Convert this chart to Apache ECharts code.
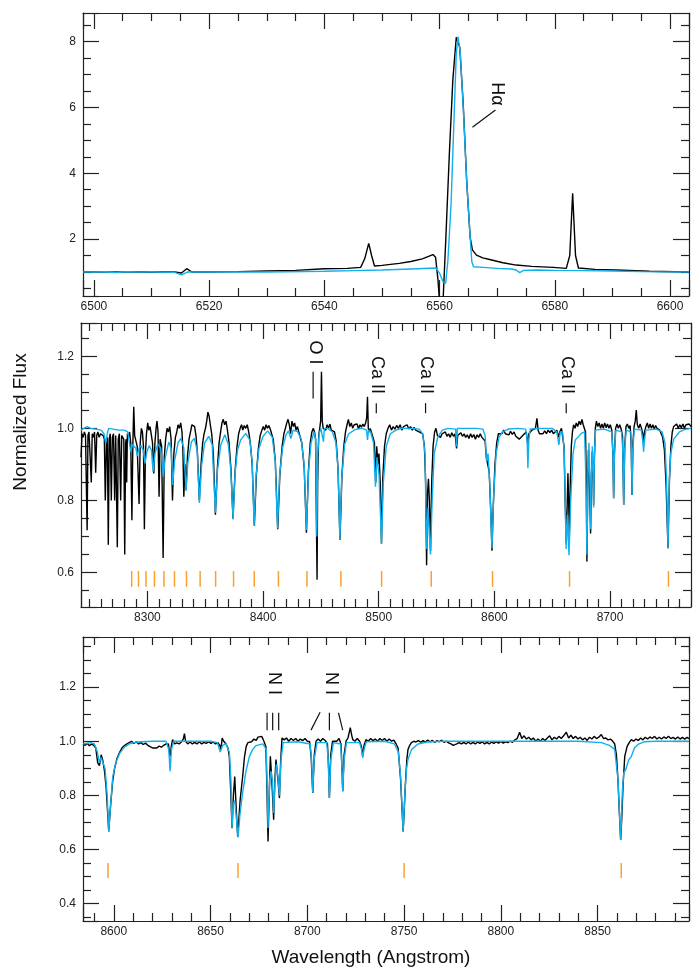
<!DOCTYPE html>
<html><head><meta charset="utf-8">
<script src="https://cdn.jsdelivr.net/npm/echarts@6/dist/echarts.min.js"></script>
<style>html,body{margin:0;padding:0;background:#fff}#c{width:699px;height:969px}</style>
</head><body><div id="c"></div><script>
// ---------- DATA ----------
const topBlack = [[6498.1,1.0],[6500,1.0],[6502,0.995],[6504,1.0],[6506,0.995],[6508,1.0],[6510,0.99],[6512,1.0],[6514,1.0],[6515.2,0.97],[6516.1,1.1],[6517,1.0],[6520,1.0],[6525,1.01],[6530,1.03],[6535,1.05],[6540,1.1],[6544,1.11],[6546.3,1.14],[6547,1.4],[6547.7,1.87],[6548.2,1.5],[6548.7,1.18],[6550,1.2],[6553,1.26],[6555,1.32],[6557,1.4],[6558.85,1.53],[6559.3,1.45],[6559.7,0.8],[6560.0,0.1],[6560.6,0.1],[6561.1,2.07],[6561.7,4.6],[6562.3,6.83],[6562.9,8.13],[6563.1,8.15],[6563.5,7.84],[6564.1,6.12],[6564.7,3.79],[6565.3,2.07],[6565.7,1.67],[6566.4,1.51],[6567.5,1.43],[6568.7,1.38],[6571,1.28],[6573.3,1.21],[6576,1.17],[6579.7,1.14],[6582,1.11],[6582.6,1.5],[6583.1,3.39],[6583.6,1.5],[6584.1,1.12],[6587,1.08],[6590.6,1.06],[6596.4,1.02],[6603.3,1.0]];
const topBlue = [[6498.1,1.0],[6502,1.0],[6503.9,0.985],[6505,1.0],[6510,0.995],[6514,0.99],[6515.2,0.91],[6516.3,1.0],[6520,1.0],[6530,1.0],[6540,1.02],[6545,1.04],[6550,1.06],[6555,1.09],[6559.4,1.12],[6560.0,0.96],[6560.6,0.7],[6561.05,0.65],[6561.45,1.36],[6562.0,3.08],[6562.5,5.62],[6562.9,7.64],[6563.2,8.15],[6563.6,7.64],[6564.1,6.02],[6564.7,3.79],[6565.3,2.07],[6565.6,1.31],[6565.9,1.16],[6567.6,1.14],[6570,1.11],[6572.5,1.09],[6573.3,1.06],[6573.9,0.98],[6574.6,1.05],[6577,1.06],[6580,1.05],[6585,1.04],[6590,1.03],[6595,1.01],[6603.3,1.0]];

const midBlack = [[8242.6,0.92],[8243.5,0.985],[8244.5,0.975],[8245.5,0.99],[8246.5,0.98],[8247.3,0.985],[8247.9,0.717],[8248.6,0.98],[8249.5,0.99],[8250.5,0.985],[8251.5,0.85],[8252.3,0.985],[8253.3,0.975],[8254.3,0.99],[8255.3,0.877],[8256.2,0.98],[8257.2,0.99],[8258.3,0.975],[8259.5,0.985],[8260.7,0.99],[8261.8,0.98],[8262.8,0.97],[8263.6,0.80],[8264.6,0.96],[8265.4,0.975],[8266.2,0.677],[8267.0,0.97],[8267.9,0.985],[8268.8,0.80],[8269.7,0.975],[8270.7,0.985],[8271.7,0.80],[8272.6,0.98],[8273.3,0.975],[8274.0,0.67],[8274.8,0.97],[8275.8,0.985],[8276.9,0.80],[8277.8,0.98],[8278.8,0.975],[8279.6,0.97],[8280.4,0.65],[8281.2,0.96],[8281.7,0.97],[8282.1,0.85],[8282.7,0.985],[8283.6,0.975],[8284.6,0.99],[8285.6,0.96],[8286.6,0.745],[8287.4,0.95],[8288.2,1.06],[8289.0,0.98],[8290.0,0.985],[8291.2,0.95],[8292.8,0.79],[8293.8,0.96],[8294.8,1.0],[8295.7,0.99],[8296.6,0.95],[8297.4,0.72],[8298.3,0.93],[8299.2,0.985],[8300.3,1.015],[8301.2,0.995],[8302.3,1.005],[8303.5,0.98],[8304.4,0.96],[8305.5,0.875],[8306.5,0.96],[8307.5,1.0],[8308.3,1.02],[8309.2,0.99],[8310.1,0.81],[8311.0,0.97],[8312.3,0.95],[8313.6,0.64],[8314.6,0.92],[8315.8,0.97],[8317.0,1.0],[8318.2,0.99],[8319.3,1.005],[8320.5,0.97],[8321.7,0.80],[8322.9,0.93],[8324.2,0.975],[8325.4,0.99],[8326.5,1.01],[8327.6,1.0],[8328.8,1.015],[8329.9,0.99],[8330.7,0.94],[8331.5,0.81],[8332.5,0.90],[8333.5,0.83],[8334.6,0.92],[8336.0,0.97],[8337.3,0.99],[8338.5,1.01],[8339.7,1.015],[8340.8,1.005],[8342.0,0.98],[8343.3,0.93],[8344.9,0.80],[8346.4,0.9],[8347.8,0.96],[8349.0,0.985],[8350.2,1.0],[8351.3,1.02],[8352.3,1.045],[8353.3,1.035],[8354.4,1.01],[8355.6,0.985],[8357.0,0.93],[8358.8,0.76],[8360.5,0.89],[8362.0,0.96],[8363.3,0.99],[8364.5,1.015],[8365.6,1.025],[8366.8,1.01],[8368.0,1.02],[8369.2,0.995],[8370.6,0.96],[8372.2,0.89],[8374.0,0.75],[8375.8,0.88],[8377.5,0.95],[8378.9,0.985],[8380.2,1.0],[8381.4,1.01],[8382.5,0.995],[8383.7,1.008],[8385.0,1.0],[8386.3,1.01],[8387.6,0.99],[8389.0,0.96],[8390.6,0.90],[8392.5,0.73],[8394.2,0.87],[8396.0,0.945],[8397.5,0.98],[8399.0,0.995],[8400.2,1.005],[8401.4,0.995],[8402.6,1.01],[8403.8,1.0],[8405.0,1.008],[8406.2,0.998],[8407.4,0.985],[8408.8,0.97],[8410.6,0.91],[8412.7,0.72],[8414.5,0.87],[8416.5,0.95],[8418.0,0.985],[8419.3,1.0],[8420.5,1.015],[8421.6,1.025],[8422.7,1.01],[8423.8,0.985],[8425.0,1.02],[8426.2,1.005],[8427.3,1.015],[8428.5,0.995],[8429.7,1.005],[8430.9,0.99],[8432.2,0.985],[8433.5,0.96],[8435.6,0.89],[8437.5,0.71],[8439.2,0.88],[8440.8,0.96],[8442.2,0.99],[8443.5,1.0],[8444.5,0.99],[8445.4,0.97],[8446.2,0.72],[8446.7,0.58],[8447.2,0.85],[8448.1,0.98],[8449.0,1.0],[8449.8,1.02],[8450.5,1.157],[8451.2,1.02],[8452.0,1.0],[8453.0,1.005],[8454.2,0.995],[8455.4,1.01],[8456.6,1.0],[8457.8,1.012],[8459.0,0.995],[8460.3,1.0],[8461.8,0.99],[8463.2,0.965],[8464.8,0.89],[8466.5,0.69],[8468.2,0.87],[8469.8,0.95],[8471.3,0.99],[8472.6,1.01],[8473.8,1.025],[8475.0,1.005],[8476.3,1.015],[8477.5,1.0],[8478.8,1.01],[8480.0,1.005],[8481.3,1.012],[8482.5,0.998],[8483.8,1.01],[8485.0,1.003],[8486.3,1.012],[8487.5,1.005],[8488.7,1.015],[8489.6,1.03],[8490.3,1.088],[8491.0,1.0],[8491.8,0.99],[8492.6,1.0],[8493.6,0.99],[8494.6,0.985],[8495.5,0.97],[8496.3,0.96],[8497.4,0.85],[8498.3,0.95],[8499.3,0.90],[8500.2,0.93],[8501.3,0.85],[8502.4,0.68],[8503.5,0.86],[8505.0,0.95],[8506.5,0.985],[8508.0,1.0],[8509.5,1.01],[8511.0,0.995],[8512.5,1.005],[8514.0,0.998],[8515.5,1.008],[8517.0,1.0],[8518.5,1.01],[8520.0,0.995],[8521.5,1.005],[8523.0,1.0],[8524.5,1.01],[8526.0,0.998],[8527.5,1.005],[8529.0,0.995],[8530.5,1.003],[8532.0,0.995],[8533.5,1.0],[8535.0,0.99],[8536.5,0.995],[8538.0,0.985],[8539.5,0.95],[8540.6,0.85],[8541.4,0.62],[8542.2,0.82],[8543.0,0.86],[8543.8,0.80],[8544.8,0.66],[8545.8,0.85],[8547.0,0.95],[8548.3,0.99],[8549.5,1.0],[8550.8,0.98],[8552.0,0.985],[8553.4,0.975],[8554.8,0.985],[8556.2,0.98],[8557.6,0.99],[8559.0,0.978],[8560.4,0.985],[8561.8,0.975],[8563.2,0.988],[8564.6,0.978],[8566.0,0.985],[8567.3,0.944],[8568.3,0.98],[8569.6,0.975],[8571.0,0.988],[8572.4,0.978],[8573.8,0.985],[8575.2,0.975],[8576.6,0.982],[8578.0,0.972],[8579.4,0.985],[8580.8,0.975],[8582.2,0.983],[8583.6,0.97],[8585.0,0.982],[8586.4,0.975],[8587.8,0.985],[8589.2,0.975],[8590.6,0.98],[8592.0,0.965],[8593.0,0.92],[8594.0,0.925],[8595.5,0.88],[8597.0,0.76],[8597.9,0.66],[8599.0,0.78],[8600.5,0.90],[8602.0,0.96],[8603.5,0.985],[8605.0,0.99],[8606.5,0.985],[8608.0,0.995],[8609.5,0.985],[8611.0,0.99],[8612.5,0.982],[8614.0,0.992],[8615.5,0.983],[8617.0,0.99],[8618.5,0.978],[8620.0,0.975],[8621.5,0.97],[8623.0,0.972],[8624.5,0.98],[8626.0,0.985],[8627.5,0.99],[8628.3,0.985],[8629.0,0.954],[8629.8,0.985],[8631.0,0.99],[8632.5,0.995],[8634.0,0.99],[8635.5,1.0],[8636.8,1.028],[8637.8,0.995],[8639.0,0.985],[8640.5,0.99],[8642.0,0.985],[8643.5,0.993],[8645.0,0.985],[8646.5,0.995],[8648.0,0.988],[8649.5,0.995],[8651.0,0.985],[8652.5,0.99],[8654.0,0.995],[8655.5,0.975],[8656.5,0.99],[8658.0,1.0],[8659.2,0.995],[8660.2,0.95],[8661.2,0.80],[8662.2,0.68],[8662.9,0.78],[8663.6,0.875],[8664.2,0.80],[8664.8,0.70],[8665.6,0.84],[8666.5,0.95],[8667.5,0.99],[8668.5,1.01],[8669.7,1.0],[8670.8,1.015],[8672.0,1.005],[8673.3,1.02],[8674.5,1.01],[8675.7,1.025],[8676.8,1.01],[8677.8,1.015],[8678.8,0.99],[8679.5,0.85],[8680.0,0.63],[8680.6,0.80],[8681.3,0.94],[8682.0,0.90],[8682.6,0.80],[8683.2,0.708],[8683.8,0.85],[8684.6,0.935],[8685.2,0.88],[8685.8,0.787],[8686.5,0.92],[8687.3,1.0],[8688.2,1.02],[8689.4,1.005],[8690.6,1.015],[8691.8,1.0],[8693.0,1.012],[8694.2,1.0],[8695.4,1.015],[8696.6,1.002],[8697.8,1.012],[8699.0,1.0],[8700.2,1.01],[8701.5,0.995],[8702.5,0.93],[8703.1,0.806],[8703.8,0.93],[8704.8,1.0],[8706.0,1.012],[8707.2,1.0],[8708.4,1.01],[8709.6,0.998],[8710.8,0.98],[8711.8,0.787],[8712.7,0.95],[8713.8,1.005],[8715.0,1.012],[8716.2,1.0],[8717.4,1.008],[8718.3,0.95],[8719.0,0.815],[8719.8,0.96],[8720.8,1.005],[8721.8,1.02],[8722.7,1.051],[8723.6,1.01],[8724.8,1.0],[8726.0,1.012],[8727.2,1.0],[8728.3,0.985],[8729.0,0.96],[8729.8,0.99],[8731.0,1.005],[8732.2,1.015],[8733.4,1.0],[8734.6,1.012],[8735.8,1.0],[8737.0,1.01],[8738.2,0.998],[8739.4,1.008],[8740.6,1.0],[8741.8,1.005],[8743.0,0.995],[8744.2,0.99],[8745.5,0.975],[8747.0,0.94],[8748.5,0.84],[8750.1,0.667],[8751.4,0.86],[8752.6,0.95],[8753.8,0.99],[8755.0,1.005],[8756.3,1.0],[8757.6,1.012],[8759.0,1.0],[8760.3,1.01],[8761.6,1.002],[8763.0,1.012],[8764.3,1.0],[8765.6,1.01],[8767.0,1.005],[8768.5,1.012],[8770.0,1.005]];
const midBlue = [[8242.6,0.995],[8245,1.0],[8248,1.005],[8249.5,1.008],[8251,1.0],[8255,0.998],[8260,0.995],[8262.5,0.985],[8264,0.958],[8265.3,0.985],[8266.5,1.0],[8270,0.998],[8275,0.995],[8280,0.995],[8283,0.99],[8284.0,0.97],[8285.6,0.935],[8287.0,0.955],[8288.5,0.95],[8290.0,0.945],[8291.3,0.923],[8292.8,0.945],[8294.5,0.952],[8296.3,0.94],[8298.0,0.903],[8299.5,0.935],[8301.5,0.952],[8303.5,0.94],[8304.9,0.88],[8306.5,0.93],[8309.0,0.957],[8311.5,0.945],[8313.8,0.866],[8315.5,0.92],[8318.5,0.962],[8320.5,0.945],[8321.9,0.843],[8323.5,0.91],[8326.5,0.96],[8329.0,0.972],[8331.5,0.945],[8333.4,0.826],[8335.0,0.905],[8338.0,0.962],[8340.5,0.972],[8343.0,0.94],[8345.0,0.793],[8346.8,0.895],[8349.5,0.96],[8353.0,0.978],[8356.0,0.955],[8358.8,0.766],[8360.6,0.885],[8363.5,0.955],[8367.0,0.982],[8370.0,0.955],[8372.1,0.884],[8374.1,0.747],[8375.8,0.875],[8377.9,0.94],[8380.7,0.968],[8385.0,0.986],[8388.5,0.968],[8390.5,0.91],[8392.3,0.731],[8394.0,0.87],[8396.5,0.945],[8400.0,0.978],[8404.0,0.993],[8408.0,0.975],[8410.5,0.91],[8412.5,0.722],[8414.3,0.87],[8417.0,0.948],[8420.0,0.983],[8422,0.993],[8424,0.972],[8426,0.995],[8430,0.99],[8433,0.97],[8435.5,0.90],[8437.5,0.718],[8439.3,0.88],[8441.5,0.96],[8444,0.99],[8445.5,0.97],[8446.5,0.70],[8447.3,0.93],[8448.5,0.985],[8450,1.0],[8451.5,1.0],[8452.2,0.963],[8453,1.0],[8456,1.0],[8460,0.99],[8463,0.96],[8465,0.88],[8466.4,0.69],[8468,0.86],[8470.5,0.955],[8474,0.985],[8480,0.997],[8486,1.0],[8489.5,0.995],[8490.3,0.968],[8491.2,0.995],[8493,0.99],[8495.5,0.96],[8497.2,0.838],[8498.5,0.92],[8500.3,0.87],[8502.4,0.68],[8504,0.85],[8506.5,0.95],[8510,0.985],[8515,0.995],[8520,1.0],[8530,1.0],[8535,0.998],[8538,0.985],[8540,0.93],[8541.4,0.665],[8542.6,0.78],[8543.5,0.72],[8544.8,0.65],[8546.2,0.80],[8548,0.93],[8551,0.975],[8555,0.995],[8560,1.0],[8566.5,0.998],[8567.3,0.95],[8568,1.0],[8575,1.0],[8585,1.0],[8590,0.998],[8592,0.98],[8593.2,0.91],[8594.5,0.93],[8596,0.85],[8597.9,0.667],[8599.5,0.82],[8601.5,0.93],[8604,0.975],[8607,0.99],[8612,0.998],[8620,1.0],[8627,0.998],[8628.3,0.97],[8629,0.889],[8629.8,0.97],[8631,0.998],[8640,1.0],[8650,1.0],[8654,0.99],[8655.8,0.954],[8657,0.99],[8659,0.99],[8660.5,0.93],[8662,0.665],[8663.2,0.76],[8664.5,0.648],[8666,0.80],[8668,0.93],[8670,0.968],[8675.2,0.986],[8678,0.99],[8679.2,0.85],[8680,0.65],[8680.8,0.85],[8681.8,0.96],[8682.6,0.85],[8683.2,0.72],[8683.8,0.86],[8684.7,0.95],[8685.3,0.88],[8685.8,0.78],[8686.5,0.93],[8687.5,0.995],[8695,0.998],[8701.5,0.99],[8702.5,0.93],[8703.1,0.806],[8703.8,0.93],[8705,0.995],[8710,0.99],[8711,0.94],[8711.8,0.787],[8712.6,0.94],[8714,0.995],[8718,0.99],[8718.5,0.94],[8719,0.815],[8719.7,0.94],[8721,0.998],[8727,0.995],[8728.3,0.965],[8729,0.935],[8729.7,0.965],[8731,0.995],[8740,0.998],[8745,0.99],[8747.5,0.96],[8748.8,0.86],[8750.1,0.667],[8751.2,0.85],[8752.5,0.93],[8755,0.97],[8760,0.99],[8765,0.997],[8770,1.0]];

const botBlack = [[8584.1,0.99],[8585.2,0.985],[8586.3,0.992],[8587.4,0.983],[8588.5,0.99],[8589.6,0.985],[8590.7,0.975],[8591.7,0.92],[8592.6,0.91],[8593.5,0.95],[8594.3,0.93],[8595.2,0.89],[8596.0,0.833],[8596.8,0.74],[8597.4,0.667],[8598.0,0.73],[8598.6,0.784],[8599.4,0.85],[8600.3,0.895],[8601.6,0.935],[8602.9,0.957],[8604.2,0.975],[8605.5,0.984],[8606.8,0.99],[8608.0,0.995],[8609.2,1.0],[8610.4,0.992],[8611.6,0.998],[8612.8,0.99],[8614.0,0.995],[8615.2,0.988],[8616.4,0.993],[8617.6,0.985],[8618.8,0.98],[8620.0,0.975],[8621.0,0.97],[8622.2,0.975],[8623.4,0.982],[8624.6,0.978],[8625.8,0.985],[8627.0,0.99],[8628.2,0.99],[8629.1,0.944],[8629.8,0.985],[8630.4,1.006],[8631.4,0.99],[8632.6,0.994],[8633.8,0.99],[8635.0,0.998],[8636.0,1.01],[8636.5,1.028],[8637.1,1.0],[8638.2,0.99],[8639.4,0.997],[8640.6,0.99],[8641.8,0.996],[8643.0,0.99],[8644.2,0.998],[8645.4,0.99],[8646.6,0.996],[8647.8,0.992],[8649.0,0.998],[8650.2,0.992],[8651.4,0.997],[8652.6,0.99],[8653.8,0.995],[8654.8,0.985],[8655.4,0.969],[8656.0,1.012],[8656.8,1.0],[8658.0,0.99],[8659.0,0.975],[8659.7,0.944],[8660.4,0.82],[8661.1,0.679],[8661.8,0.80],[8662.5,0.87],[8663.2,0.76],[8664.0,0.648],[8664.7,0.72],[8665.3,0.784],[8666.0,0.83],[8666.6,0.87],[8667.5,0.94],[8668.4,0.98],[8669.3,0.995],[8670.1,1.0],[8671.2,0.998],[8672.4,1.008],[8673.6,1.003],[8674.5,1.015],[8675.2,1.012],[8676.4,1.018],[8677.3,1.005],[8677.8,1.006],[8678.6,0.98],[8679.2,0.80],[8679.7,0.63],[8680.3,0.80],[8680.9,0.944],[8681.7,0.85],[8682.6,0.71],[8683.2,0.85],[8683.8,0.932],[8684.8,0.86],[8685.6,0.79],[8686.2,0.92],[8686.9,1.012],[8688.0,1.005],[8689.2,1.012],[8690.4,1.0],[8691.6,1.01],[8692.8,1.003],[8694.0,1.01],[8695.2,1.0],[8696.4,1.008],[8697.6,1.002],[8698.8,1.01],[8700.0,1.0],[8701.2,0.998],[8702.0,0.94],[8702.8,0.809],[8703.6,0.95],[8704.5,1.0],[8705.6,1.008],[8706.8,1.0],[8708.0,1.01],[8709.2,1.003],[8710.4,0.99],[8711.0,0.9],[8711.4,0.79],[8712.1,0.95],[8713.0,1.0],[8714.0,1.006],[8715.2,1.0],[8716.4,1.01],[8717.4,0.99],[8717.9,0.9],[8718.3,0.815],[8719.0,0.95],[8720.0,1.0],[8721.0,1.012],[8722.2,1.05],[8723.0,1.02],[8723.5,1.006],[8724.6,1.0],[8725.8,1.01],[8727.0,1.0],[8728.0,0.98],[8728.6,0.945],[8729.3,0.985],[8730.3,1.006],[8731.5,1.0],[8732.7,1.01],[8733.9,1.002],[8735.1,1.008],[8736.3,1.0],[8737.5,1.01],[8738.7,1.003],[8739.9,1.01],[8741.1,1.0],[8742.3,1.008],[8743.5,1.0],[8744.7,1.004],[8745.9,0.99],[8746.9,0.975],[8748.2,0.858],[8749.5,0.667],[8750.1,0.75],[8750.7,0.846],[8751.4,0.93],[8752.0,0.969],[8752.9,0.985],[8753.8,0.995],[8755.0,1.0],[8756.2,0.997],[8757.4,1.003],[8758.6,0.996],[8759.8,1.002],[8761.0,0.997],[8762.2,1.004],[8763.4,0.998],[8764.6,1.003],[8765.8,0.996],[8767.0,1.002],[8768.2,0.998],[8769.4,1.004],[8770.6,0.996],[8771.8,1.0],[8773.0,0.994],[8774.2,0.99],[8775.4,0.985],[8776.1,0.984],[8777.2,0.99],[8778.4,0.995],[8779.6,0.99],[8780.8,0.996],[8782.0,0.99],[8783.2,0.997],[8784.4,0.99],[8785.6,0.996],[8786.8,0.99],[8788.0,0.997],[8789.2,0.992],[8790.4,0.998],[8791.6,0.99],[8792.8,0.996],[8794.0,0.99],[8795.2,0.997],[8796.4,0.992],[8797.6,0.998],[8798.8,0.993],[8800.0,0.999],[8801.2,0.993],[8802.4,0.998],[8803.6,0.995],[8804.8,1.0],[8806.0,0.996],[8807.2,1.005],[8808.4,1.01],[8809.7,1.033],[8810.8,1.01],[8812.0,1.02],[8813.2,1.008],[8814.4,1.015],[8815.6,1.005],[8816.8,1.012],[8818.0,1.0],[8819.2,1.008],[8820.4,1.0],[8821.6,1.01],[8822.8,1.003],[8824.0,1.012],[8825.2,1.02],[8826.4,1.005],[8827.6,1.015],[8828.8,1.008],[8830.0,1.018],[8831.2,1.01],[8832.4,1.02],[8833.8,1.033],[8835.0,1.012],[8836.2,1.022],[8837.4,1.01],[8838.6,1.018],[8839.8,1.008],[8841.0,1.015],[8842.2,1.005],[8843.4,1.012],[8844.6,1.003],[8845.8,1.015],[8847.0,1.008],[8848.2,1.018],[8849.4,1.01],[8850.6,1.015],[8851.9,1.025],[8853.0,1.01],[8854.2,1.012],[8855.4,1.005],[8856.6,1.008],[8857.8,1.0],[8858.8,0.99],[8859.7,0.95],[8860.5,0.858],[8861.2,0.74],[8861.9,0.636],[8862.5,0.72],[8863.1,0.833],[8864.0,0.944],[8865.2,0.98],[8866.3,0.995],[8867.4,1.006],[8868.6,1.0],[8869.8,1.008],[8871.0,1.003],[8872.2,1.012],[8873.4,1.005],[8874.6,1.015],[8875.8,1.008],[8877.0,1.016],[8878.2,1.01],[8879.4,1.018],[8880.6,1.008],[8881.8,1.015],[8883.0,1.008],[8884.2,1.016],[8885.4,1.01],[8886.6,1.018],[8887.8,1.01],[8889.0,1.014],[8890.2,1.008],[8891.4,1.016],[8892.6,1.008],[8893.8,1.014],[8895.0,1.008],[8896.2,1.014],[8897.2,1.01]];
const botBlue = [[8584.1,0.99],[8588,0.995],[8590,0.99],[8591.5,0.96],[8592.6,0.92],[8593.4,0.94],[8594.2,0.945],[8595.5,0.90],[8596.6,0.80],[8597.4,0.667],[8598.3,0.76],[8599.5,0.87],[8601,0.92],[8603,0.955],[8605.5,0.978],[8608,0.99],[8612,0.997],[8620,1.0],[8627,1.0],[8628.4,0.97],[8629.1,0.889],[8629.8,0.97],[8631,1.0],[8640,1.0],[8650,1.0],[8653.5,0.995],[8655.0,0.96],[8655.4,0.957],[8656.2,0.985],[8658,0.99],[8659.7,0.96],[8660.5,0.86],[8661.1,0.68],[8661.8,0.77],[8662.5,0.78],[8663.3,0.72],[8664.2,0.645],[8665.2,0.73],[8666.6,0.81],[8668.3,0.89],[8670.1,0.944],[8671.8,0.97],[8673.5,0.984],[8677,0.99],[8678.8,0.97],[8679.7,0.68],[8680.6,0.86],[8681.2,0.89],[8682.0,0.85],[8682.6,0.735],[8683.3,0.85],[8684.0,0.915],[8684.8,0.87],[8685.6,0.80],[8686.4,0.93],[8687.5,0.995],[8695,0.998],[8701.5,0.99],[8702.2,0.93],[8702.8,0.81],[8703.5,0.93],[8705,0.995],[8710,0.995],[8710.8,0.93],[8711.4,0.79],[8712.1,0.93],[8713.5,0.995],[8717.2,0.99],[8717.7,0.93],[8718.3,0.815],[8719.0,0.93],[8720.2,0.995],[8727,0.995],[8728.0,0.97],[8728.6,0.938],[8729.3,0.97],[8730.5,0.998],[8740,1.0],[8745,0.99],[8747,0.96],[8748.2,0.87],[8749.5,0.667],[8750.5,0.82],[8751.3,0.90],[8752.0,0.932],[8753.8,0.969],[8757.2,0.99],[8762,0.997],[8770,1.0],[8800,1.0],[8840,1.0],[8852,0.995],[8856,0.985],[8858.8,0.97],[8860.5,0.86],[8861.9,0.636],[8862.8,0.82],[8863.5,0.883],[8864.5,0.895],[8866,0.93],[8867.4,0.944],[8869,0.975],[8870.8,0.988],[8874,0.998],[8880,1.0],[8897.2,1.0]];

// Paschen line positions (orange markers): [wavelength, low, high]
const midPaschen = [[8286.4,0.56,0.604],[8292.3,0.56,0.604],[8298.8,0.56,0.604],[8306.1,0.56,0.604],[8314.3,0.56,0.604],[8323.4,0.56,0.604],[8333.8,0.56,0.604],[8345.6,0.56,0.604],[8359.0,0.56,0.604],[8374.5,0.56,0.604],[8392.4,0.56,0.604],[8413.3,0.56,0.604],[8438.0,0.56,0.604],[8467.3,0.56,0.604],[8502.5,0.56,0.604],[8545.4,0.56,0.604],[8598.4,0.56,0.604],[8665.0,0.56,0.604],[8750.5,0.56,0.604]];
const botPaschen = [[8597.0,0.495,0.55],[8664.2,0.495,0.55],[8750.0,0.495,0.55],[8862.2,0.495,0.55]];

const xTitle = 'Wavelength (Angstrom)';
const yTitle = 'Normalized Flux';

// ---------- CHART ----------
const FONT = 'Liberation Sans, Arial, Helvetica, sans-serif';
const AX = '#222';
const BLUE = '#10b0ee';
const ORANGE = '#f9a030';

const panels = [
  {grid:{left:83, top:13, width:606, height:283}, x:[6498.1,6603.3], y:[0.27,8.87], xs:20, ys:2, xm:4, ym:4, yd:0},
  {grid:{left:81, top:323, width:610, height:284}, x:[8242.6,8770], y:[0.504,1.2925], xs:100, ys:0.2, xm:10, ym:4, yd:1},
  {grid:{left:83, top:637, width:606, height:284}, x:[8584.1,8897.2], y:[0.336,1.385], xs:50, ys:0.2, xm:5, ym:4, yd:1}
];
function fmt(step, dec){
  return function(v){ const r=v/step; return Math.abs(r-Math.round(r))<1e-6 ? v.toFixed(dec) : ''; };
}
const lineSt = {color:AX, width:1.2};
const grids=[], xAxes=[], yAxes=[];
panels.forEach((p,i)=>{
  grids.push(Object.assign({containLabel:false}, p.grid));
  ['bottom','top'].forEach((pos,k)=>{
    xAxes.push({type:'value', gridIndex:i, position:pos, min:p.x[0], max:p.x[1], scale:true,
      axisLine:{show:true, onZero:false, lineStyle:lineSt},
      axisTick:{show:true, inside:true, length:16, lineStyle:lineSt},
      minorTick:{show:true, splitNumber:p.xm, length:8, lineStyle:lineSt},
      splitLine:{show:false}, minorSplitLine:{show:false},
      axisLabel:{show:k===0, inside:false, margin:5, fontSize:12, color:AX, fontFamily:FONT, formatter:fmt(p.xs,0)}});
  });
  ['left','right'].forEach((pos,k)=>{
    yAxes.push({type:'value', gridIndex:i, position:pos, min:p.y[0], max:p.y[1], scale:true,
      axisLine:{show:true, onZero:false, lineStyle:lineSt},
      axisTick:{show:true, inside:true, length:16, lineStyle:lineSt},
      minorTick:{show:true, splitNumber:p.ym, length:8, lineStyle:lineSt},
      splitLine:{show:false}, minorSplitLine:{show:false},
      axisLabel:{show:k===0, margin:7, fontSize:12, color:AX, fontFamily:FONT, formatter:fmt(p.ys,p.yd)}});
  });
});
function spec(data, g, color){
  return {type:'line', data:data, xAxisIndex:2*g, yAxisIndex:2*g, showSymbol:false, symbol:'none',
    lineStyle:{color:color, width:1.4}, clip:true, animation:false, z:color===BLUE?3:2};
}
function ticks(data, g){
  return {type:'custom', data:data, xAxisIndex:2*g, yAxisIndex:2*g, animation:false, z:4,
    renderItem:function(params, api){
      const a = api.coord([api.value(0), api.value(1)]);
      const b = api.coord([api.value(0), api.value(2)]);
      return {type:'line', shape:{x1:a[0],y1:a[1],x2:b[0],y2:b[1]}, style:{stroke:ORANGE, lineWidth:1.5}};
    }};
}
const option = {
  animation:false, backgroundColor:'#fff',
  grid:grids, xAxis:xAxes, yAxis:yAxes,
  series:[spec(topBlack,0,'#000'), spec(topBlue,0,BLUE), spec(midBlack,1,'#000'), spec(midBlue,1,BLUE),
          spec(botBlack,2,'#000'), spec(botBlue,2,BLUE), ticks(midPaschen,1), ticks(botPaschen,2)]
};
const chart = echarts.init(document.getElementById('c'), null, {renderer:'canvas'});
chart.setOption(option);

// ---------- ANNOTATIONS (anchored in data coordinates) ----------
const panelSeries = [0,2,4];
const labelDefs = [
  {g:0, text:'H\u03b1', at:[6569.9,6.41]},
  {g:1, text:'O I', at:[8444.7,1.2106]},
  {g:1, text:'Ca II', at:[8498.4,1.148]},
  {g:1, text:'Ca II', at:[8540.7,1.148]},
  {g:1, text:'Ca II', at:[8662.5,1.148]},
  {g:2, text:'N I', at:[8683.0,1.2137]},
  {g:2, text:'N I', at:[8712.0,1.2137]}
];
const segDefs = [
  {g:0, a:[6565.7,5.40], b:[6569.7,5.92]},
  {g:1, a:[8443.3,1.157], b:[8443.3,1.083]},
  {g:1, a:[8497.9,1.070], b:[8497.9,1.042]},
  {g:1, a:[8540.5,1.070], b:[8540.5,1.042]},
  {g:1, a:[8662.1,1.070], b:[8662.1,1.042]},
  {g:2, a:[8679.2,1.105], b:[8679.2,1.041]},
  {g:2, a:[8682.1,1.105], b:[8682.1,1.041]},
  {g:2, a:[8685.2,1.105], b:[8685.2,1.041]},
  {g:2, a:[8701.9,1.041], b:[8706.6,1.107]},
  {g:2, a:[8711.4,1.105], b:[8711.4,1.041]},
  {g:2, a:[8716.1,1.105], b:[8718.3,1.041]}
];
const els = [];
labelDefs.forEach(d=>{
  const p = chart.convertToPixel({seriesIndex:panelSeries[d.g]}, d.at);
  els.push({type:'text', x:p[0], y:p[1], rotation:-Math.PI/2, silent:true,
    style:{text:d.text, fontSize:18, fontFamily:FONT, fill:'#111', align:'center', verticalAlign:'middle', textAlign:'center', textVerticalAlign:'middle'}});
});
segDefs.forEach(d=>{
  const a = chart.convertToPixel({seriesIndex:panelSeries[d.g]}, d.a);
  const b = chart.convertToPixel({seriesIndex:panelSeries[d.g]}, d.b);
  els.push({type:'line', silent:true, shape:{x1:a[0],y1:a[1],x2:b[0],y2:b[1]}, style:{stroke:'#111', lineWidth:1.2}});
});
els.push({type:'text', x:21, y:422, rotation:Math.PI/2, silent:true,
  style:{text:yTitle, fontSize:19, fontFamily:FONT, fill:'#111', align:'center', verticalAlign:'middle', textAlign:'center', textVerticalAlign:'middle'}});
els.push({type:'text', x:371, y:958, silent:true,
  style:{text:xTitle, fontSize:19, fontFamily:FONT, fill:'#111', align:'center', verticalAlign:'middle', textAlign:'center', textVerticalAlign:'middle'}});
chart.setOption({graphic:{elements:els}});
</script></body></html>
